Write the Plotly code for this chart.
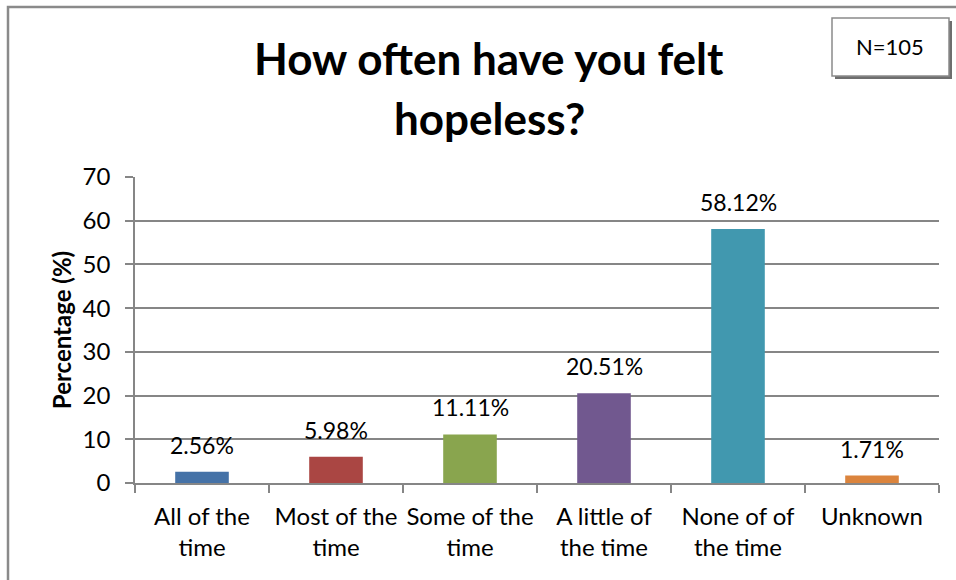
import plotly.graph_objects as go

# Survey responses: "How often have you felt hopeless?"
categories = ["All of the time", "Most of the time", "Some of the time",
              "A little of the time", "None of of the time", "Unknown"]
tick_labels = ["All of the<br>time", "Most of the<br>time", "Some of the<br>time",
               "A little of<br>the time", "None of of<br>the time", "Unknown"]
percentages = [2.56, 5.98, 11.11, 20.51, 58.12, 1.71]
bar_colors = ["#4572A7", "#AA4643", "#89A54E", "#71588F", "#4198AF", "#DB843D"]
sample_size = 105

W, H = 956, 580
L, R, T, B = 135, 17, 177, 97
PW, PH = W - L - R, H - T - B

def px(x):
    return (x - L) / PW

def py(y):
    return (H - B - y) / PH

FONT = "Lato, Calibri, Carlito, sans-serif"
GRAY = "#868686"

fig = go.Figure(go.Bar(
    x=categories, y=percentages,
    marker=dict(color=bar_colors, line=dict(width=0)),
    width=0.4,
    hoverinfo="x+y",
))

# value labels above each bar
for c, v in zip(categories, percentages):
    fig.add_annotation(x=c, y=v, text=f"{v:.2f}%", showarrow=False,
                       yanchor="bottom", yshift=11,
                       font=dict(family=FONT, size=23, color="#000"))

# two-line title
fig.add_annotation(xref="paper", yref="paper", x=px(489), y=py(58),
                   text="<b>How often have you felt</b>", showarrow=False,
                   xanchor="center", yanchor="middle",
                   font=dict(family=FONT, size=44, color="#000"))
fig.add_annotation(xref="paper", yref="paper", x=px(489), y=py(118),
                   text="<b>hopeless?</b>", showarrow=False,
                   xanchor="center", yanchor="middle",
                   font=dict(family=FONT, size=44, color="#000"))

# chart frame
fig.add_shape(type="rect", xref="paper", yref="paper",
              x0=px(8), y0=py(7), x1=px(1200), y1=py(900),
              line=dict(color="#8a8a8a", width=2.5), fillcolor="rgba(0,0,0,0)",
              layer="below")

# sample size box with shadow
fig.add_shape(type="rect", xref="paper", yref="paper",
              x0=px(835), y0=py(21), x1=px(952), y1=py(79),
              line=dict(width=0), fillcolor="#6e6e6e")
fig.add_shape(type="rect", xref="paper", yref="paper",
              x0=px(832), y0=py(18), x1=px(949), y1=py(76),
              line=dict(color="#8a8a8a", width=1.5), fillcolor="#ffffff")
fig.add_annotation(xref="paper", yref="paper", x=px(890), y=py(46),
                   text=f"N={sample_size}", showarrow=False,
                   xanchor="center", yanchor="middle",
                   font=dict(family=FONT, size=22, color="#000"))

fig.update_layout(
    width=W, height=H,
    margin=dict(l=L, r=R, t=T, b=B, pad=0, autoexpand=False),
    paper_bgcolor="white", plot_bgcolor="white",
    showlegend=False,
    font=dict(family=FONT, size=20, color="#000"),
    bargap=0.6,
)
fig.update_xaxes(
    tickmode="array", tickvals=categories, ticktext=tick_labels,
    tickson="boundaries", ticks="outside", ticklen=8, tickcolor=GRAY, tickwidth=1.5,
    showline=True, linecolor=GRAY, linewidth=1.5,
    showgrid=False, tickfont=dict(family=FONT, size=24, color="#000"),
    tickangle=0, automargin=False,
    ticklabelstandoff=11,
    fixedrange=True,
)
fig.update_yaxes(
    range=[0, 70], dtick=10, tick0=0,
    ticks="outside", ticklen=8, tickcolor=GRAY, tickwidth=1.5,
    showline=True, linecolor=GRAY, linewidth=1.5,
    showgrid=True, gridcolor=GRAY, gridwidth=1.5,
    zeroline=False, automargin=False,
    tickfont=dict(family=FONT, size=24, color="#000"),
    ticklabelstandoff=10,
    title=dict(text="<b>Percentage (%)</b>", font=dict(family=FONT, size=24, color="#000"),
               standoff=4),
    fixedrange=True,
)

fig.write_html("out.html")
